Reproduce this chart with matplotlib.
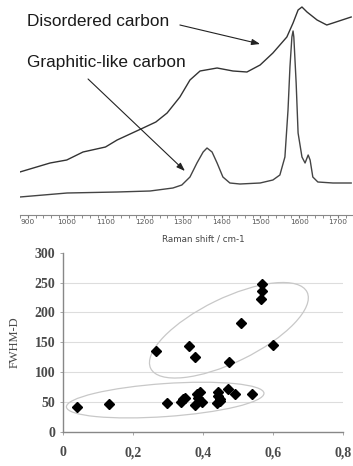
import matplotlib as mpl
mpl.use('Agg')
import matplotlib.pyplot as plt
from matplotlib.patches import Ellipse
from matplotlib.transforms import IdentityTransform
from matplotlib.ticker import MultipleLocator, FuncFormatter

# Raman spectra (arbitrary intensity units)
shift_dis = [879, 957, 1000, 1042, 1100, 1130, 1197, 1230, 1259, 1292, 1318, 1344,
             1388, 1429, 1465, 1499, 1532, 1568, 1584, 1597, 1607, 1620, 1646, 1671,
             1687, 1734]
int_dis = [43, 52, 55, 63, 68, 75, 87, 93, 102, 118, 135, 144,
           147, 144, 143, 150, 162, 178, 192, 205, 208, 203, 195, 190,
           192, 198]

shift_gra = [879, 1001, 1130, 1215, 1274, 1297, 1318, 1336, 1352, 1362, 1375, 1388,
             1403, 1421, 1447, 1499, 1532, 1550, 1563, 1571, 1576, 1581, 1584, 1586,
             1592, 1597, 1607, 1615, 1620, 1623, 1628, 1635, 1648, 1687, 1734]
int_gra = [18, 22, 23, 24, 27, 30, 38, 52, 63, 67, 63, 52,
           38, 32, 31, 32, 35, 40, 58, 105, 148, 178, 184, 178,
           132, 82, 58, 52, 57, 60, 55, 38, 33, 32, 32]

# scatter: ratio vs FWHM-D
ratio = [0.039, 0.131, 0.296, 0.336, 0.342, 0.348, 0.377, 0.382, 0.386, 0.390, 0.396,
         0.439, 0.442, 0.444, 0.449, 0.448, 0.472, 0.491, 0.539,
         0.266, 0.361, 0.378, 0.474, 0.508, 0.565, 0.569, 0.570, 0.601]
fwhm = [41, 47, 48, 50, 54, 57, 45, 64, 56, 67, 49,
        48, 60, 67, 51, 55, 72, 63, 64,
        136, 143, 126, 117, 183, 222, 236, 248, 145]

# cluster ellipses: centre (data), semi axes (px), angle (deg)
ell_centres = [(0.292, 53), (0.474, 170)]
ell_axes = [(99, 16.5), (87, 32)]
ell_angles = [4, 26]

fig = plt.figure(figsize=(3.53, 4.66), dpi=100)

# ---- top: spectra
ax1 = fig.add_axes([20 / 353, 251 / 466, 333 / 353, 215 / 466])
ax1.plot(shift_dis, int_dis, color='#333333', lw=1.0)
ax1.plot(shift_gra, int_gra, color='#444444', lw=1.0)
ax1.set_xlim(879.4, 1738.7)
ax1.set_ylim(0, 215)
for s in ['top', 'right', 'left']:
    ax1.spines[s].set_visible(False)
ax1.spines['bottom'].set_color('#888888')
ax1.set_yticks([])
ax1.xaxis.set_major_locator(MultipleLocator(100))
ax1.xaxis.set_minor_locator(MultipleLocator(20))
ax1.tick_params(axis='x', which='major', length=2.5, width=0.8, color='#777777',
                labelsize=5.3, labelcolor='#555555', pad=0.5)
ax1.tick_params(axis='x', which='minor', length=1.8, width=0.6, color='#777777')
ax1.set_xlabel('Raman shift / cm-1', fontsize=6.3, color='#444444')
ax1.xaxis.set_label_coords(0.55, -0.09)

ax1.text(897, 194, 'Disordered carbon', fontsize=12.4, family='Liberation Sans',
         color='#1a1a1a', va='center', ha='left')
ax1.text(897, 152, 'Graphitic-like carbon', fontsize=12.4, family='Liberation Sans',
         color='#1a1a1a', va='center', ha='left')
arrow = dict(arrowstyle='-|>,head_length=0.5,head_width=0.18', color='#222222', lw=0.8,
             shrinkA=0, shrinkB=0)
ax1.annotate('', xy=(1499, 171), xytext=(1292, 190), arrowprops=arrow)
ax1.annotate('', xy=(1305, 44), xytext=(1055, 136), arrowprops=arrow)

# ---- bottom: scatter
ax2 = fig.add_axes([63 / 353, 34.3 / 466, 280 / 353, 179 / 466])
ax2.plot(ratio, fwhm, 'D', color='black', ms=4.6, ls='none', zorder=3)
ax2.set_xlim(0, 0.8)
ax2.set_ylim(0, 300)
ax2.set_xticks([0, 0.2, 0.4, 0.6, 0.8])
ax2.set_yticks(range(0, 301, 50))
ax2.xaxis.set_major_formatter(FuncFormatter(lambda v, p: '0' if v == 0 else ('%.1f' % v).replace('.', ',')))
for s in ['top', 'right']:
    ax2.spines[s].set_visible(False)
for s in ['left', 'bottom']:
    ax2.spines[s].set_color('#888888')
    ax2.spines[s].set_linewidth(1.0)
ax2.yaxis.grid(True, color='#dddddd', lw=0.8)
ax2.set_axisbelow(True)
ax2.get_ygridlines()[0].set_visible(False)
ax2.get_ygridlines()[-1].set_visible(False)
ax2.tick_params(axis='both', length=2.5, width=0.6, color='#999999',
                labelsize=10, labelcolor='#4a4a4a')
ax2.tick_params(axis='x', pad=8)
ax2.tick_params(axis='y', pad=3)
for lab in ax2.get_xticklabels() + ax2.get_yticklabels():
    lab.set_family('Liberation Serif')
    lab.set_fontweight('bold')
ax2.set_ylabel('FWHM-D', fontsize=9, family='Liberation Serif', color='#4a4a4a',
               labelpad=10)

for (cx, cy), (a, b), ang in zip(ell_centres, ell_axes, ell_angles):
    px, py = ax2.transData.transform((cx, cy))
    ax2.add_patch(Ellipse((px, py), 2 * a, 2 * b, angle=ang, transform=IdentityTransform(),
                          fill=False, ec='#c8c8c8', lw=0.9))

fig.savefig('out.png', dpi=100)
